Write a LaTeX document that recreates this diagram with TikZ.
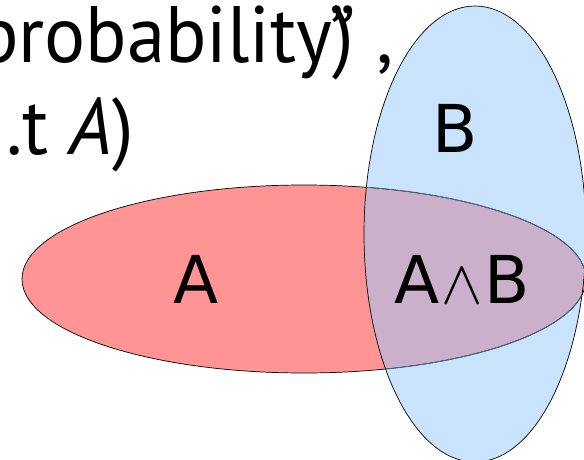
\documentclass[tikz,border=0pt]{standalone}
\usepackage{fontspec}
\setmainfont{DejaVu Sans}
\newfontfamily\slidefont[FakeStretch=0.96]{PT Sans}
\definecolor{setA}{HTML}{FF9494}
\definecolor{setB}{HTML}{C9E3FC}
\definecolor{setAB}{HTML}{CAB0CB}
\definecolor{innerline}{HTML}{4F6A88}
\newcommand{\andsym}{\scalebox{6.2}{\fontsize{10}{12}\selectfont$\wedge$}}

\begin{document}
\begin{tikzpicture}[x=1pt,y=-1pt,
    setlabel/.style={inner sep=0pt,font=\fontsize{66}{72}\selectfont},
    slidetext/.style={inner sep=0pt,font=\slidefont\fontsize{80}{90}\selectfont},
    outline/.style={line width=0.7pt,black},
    ellA/.style={x radius=282,y radius=94},
    ellB/.style={x radius=111,y radius=228},
]
\useasboundingbox (0,0) rectangle (584,460);
\clip (0,0) rectangle (584,460);
\coordinate (A) at (304,279);
\coordinate (B) at (475,234);
% the two sets
\fill[setA] (A) ellipse[ellA];
\fill[setB] (B) ellipse[ellB];
\begin{scope}
  \clip (B) ellipse[ellB];
  \fill[setAB] (A) ellipse[ellA];
\end{scope}
\draw[outline] (B) ellipse[ellB];
\draw[outline] (A) ellipse[ellA];
\begin{scope}
  \clip (B) ellipse[ellB];
  \draw[outline,innerline] (A) ellipse[ellA];
\end{scope}
% labels
\node[setlabel] (lA) at (196.5,279) {A};
\node[setlabel] (lB) at (455,128.5) {B};
\node[setlabel] (lAB) at (462,279.5) {A\kern2pt\andsym\kern2ptB};
% slide text, cut off at the left
\node[slidetext,anchor=base east] (prob) at (394,63) {probability)\kern-.3em” ,};
\node[slidetext,anchor=base east] (wrt) at (134,154) {.t \textit{A})};
\end{tikzpicture}
\end{document}
